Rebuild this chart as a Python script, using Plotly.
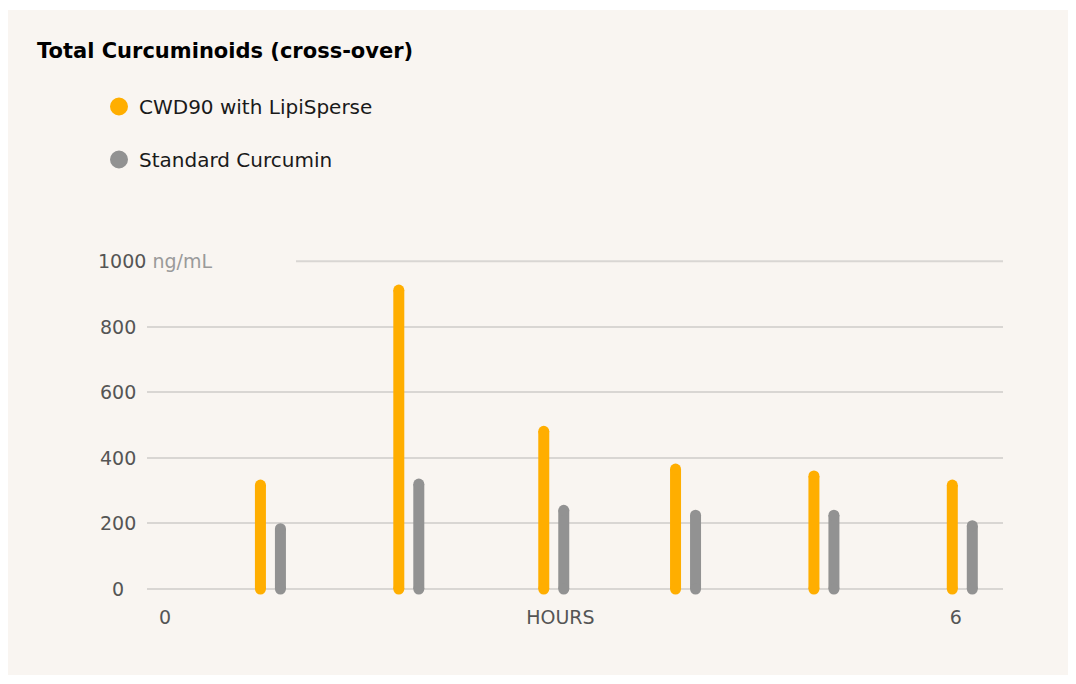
import plotly.graph_objects as go

# values
hours = [0.8, 1.85, 2.95, 3.95, 5.0, 6.05]
cwd90 = [317, 912, 481, 366, 345, 317]
standard = [184, 320, 240, 225, 225, 193]
series_names = ["CWD90 with LipiSperse", "Standard Curcumin"]
y_ticks = [0, 200, 400, 600, 800]
y_top = 1000
x_tickvals = [0, 3, 6]
x_ticktext = ["0", "HOURS", "6"]

ORANGE = "#ffae00"
GREY = "#929292"
BG = "#f9f5f1"
GRID = "#d9d6d3"
FONT = "DejaVu Sans, sans-serif"

W, H = 1076, 684
OFF = 8  # the page body margin shifts the figure by this much
# plot area, in page pixels
X0, X1, Y0, Y1 = 147, 1003, 230, 604
L, R, T, B = X0 - OFF, W - (X1 - OFF), Y0 - OFF, H - (Y1 - OFF)
PW, PH = X1 - X0, Y1 - Y0
BASE_PX = 589
PX_PER_UNIT = 65.56 / 200
PX_PER_HOUR = (955.7 - 165) / 6
GAP = 10 / PX_PER_HOUR  # half distance between paired bars


def px_x(p):
    return (p - X0) / PW


def px_y(p):
    return (Y1 - p) / PH


def bar_xy(xs, vals, shift):
    x, y = [], []
    for h, v in zip(xs, vals):
        x += [h + shift, h + shift, None]
        y += [0, v, None]
    return x, y


fig = go.Figure()

for vals, color, shift in [(cwd90, ORANGE, -GAP), (standard, GREY, GAP)]:
    bx, by = bar_xy(hours, vals, shift)
    fig.add_trace(go.Scatter(x=bx, y=by, mode="lines+markers",
                             line=dict(color=color, width=11),
                             marker=dict(color=color, size=11),
                             showlegend=False, hoverinfo="skip"))

# legend-only entries (round dots)
for i, (name, color) in enumerate(zip(series_names, [ORANGE, GREY])):
    fig.add_trace(go.Scatter(x=[None], y=[None], mode="markers", name=name,
                             legendgroup=str(i),
                             marker=dict(color=color, size=16,
                                         line=dict(color=color, width=2))))

# y tick labels centred under each other like the original
for v in y_ticks:
    fig.add_annotation(x=px_x(118), xref="paper", y=v, yref="y", text=str(v),
                       showarrow=False, xanchor="center", yanchor="middle",
                       font=dict(family=FONT, size=19, color="#555555"))
fig.add_annotation(x=px_x(96), xref="paper", y=y_top, yref="y",
                   text="1000 <span style='color:#9a9a9a'>ng/mL</span>",
                   showarrow=False, xanchor="left", yanchor="middle",
                   font=dict(family=FONT, size=19, color="#555555"))

# background panel and the shortened top grid line
fig.add_shape(type="rect", xref="paper", yref="paper",
              x0=px_x(8), x1=px_x(1070), y0=px_y(675), y1=px_y(10),
              fillcolor=BG, line_width=0, layer="below")
fig.add_shape(type="line", xref="paper", yref="y",
              x0=px_x(296), x1=1, y0=y_top, y1=y_top,
              line=dict(color=GRID, width=2), layer="below")

fig.update_layout(
    width=W, height=H,
    margin=dict(l=L, r=R, t=T, b=B),
    paper_bgcolor="white",
    plot_bgcolor="rgba(0,0,0,0)",
    font=dict(family=FONT, color="#222222"),
    title=dict(text="<b>Total Curcuminoids (cross-over)</b>",
               x=(37 - OFF) / W, xref="container", xanchor="left",
               y=1 - (51 - OFF) / H, yref="container", yanchor="middle",
               font=dict(family=FONT, size=21, color="#000000")),
    legend=dict(x=px_x(99), xanchor="left", y=px_y(87), yanchor="top",
                font=dict(family=FONT, size=20, color="#1a1a1a"),
                tracegroupgap=24, bgcolor="rgba(0,0,0,0)"),
    xaxis=dict(range=[(X0 - 165) / PX_PER_HOUR, (X1 - 165) / PX_PER_HOUR],
               tickvals=x_tickvals, ticktext=x_ticktext,
               showgrid=False, zeroline=False, showline=False,
               tickfont=dict(family=FONT, size=19, color="#555555")),
    yaxis=dict(range=[-(Y1 - BASE_PX) / PX_PER_UNIT,
                      (BASE_PX - Y0) / PX_PER_UNIT],
               tickvals=y_ticks, showticklabels=False,
               showgrid=True, gridcolor=GRID, gridwidth=2, zeroline=False),
)

fig.write_html("out.html")
